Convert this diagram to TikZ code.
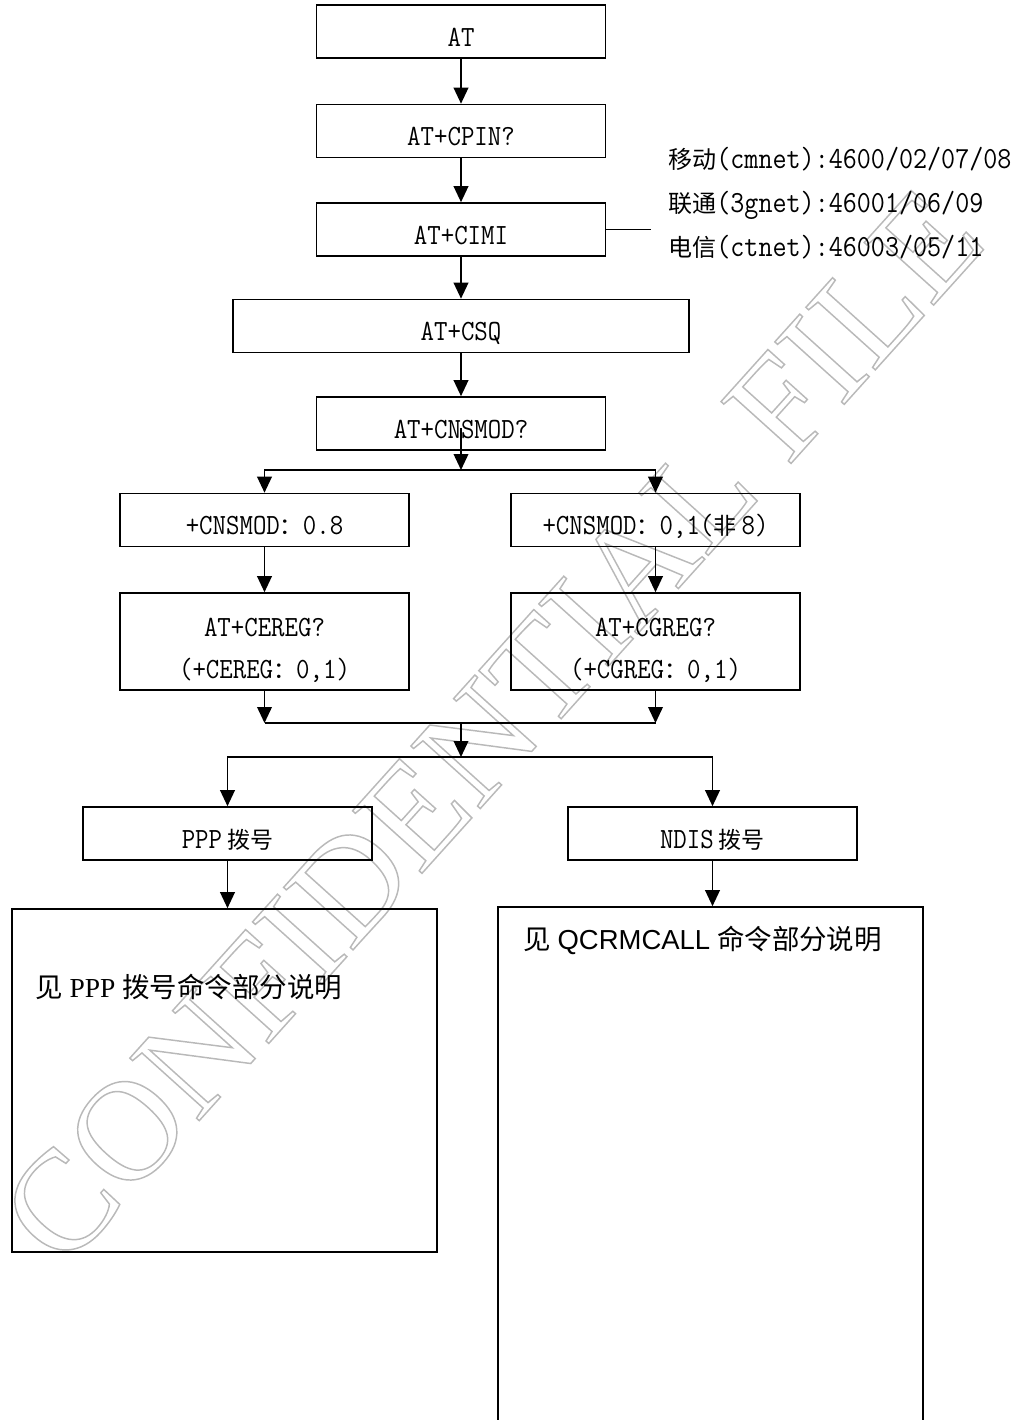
\documentclass[tikz,border=0pt]{standalone}
\usepackage{fontspec}
\setmainfont{Liberation Serif}
\setmonofont[FakeStretch=0.89]{Latin Modern Mono}
\newfontfamily\cjk[Scale=0.784]{Noto Sans CJK SC}
\newfontfamily\cjkbig{Noto Sans CJK SC}
\newfontfamily\arialfont{Liberation Sans}
\usepackage{xcolor}
\usepackage{tikz}
\usetikzlibrary{arrows.meta, positioning, calc}
\definecolor{mydark}{RGB}{0,0,0}
\definecolor{mymark}{RGB}{185,185,185}
\newcommand{\outlineon}{\special{pdf:literal direct 1 Tr 1.1 w}}
\newcommand{\outlineoff}{\special{pdf:literal direct 0 Tr}}
\newcommand{\topgap}{\rule{0pt}{27pt}}
\tikzset{
  boxbase/.style={rectangle, draw=mydark, line width=1.2pt, inner sep=0pt,
    minimum width=217pt, font=\fontsize{22}{26}\selectfont\ttfamily},
  box/.style={boxbase, minimum height=39.75pt, text height=22pt, text depth=0pt},
  widebox/.style={box, minimum width=342pt},
  tallbox/.style={boxbase, minimum height=72.75pt, align=center,
    font=\fontsize{22}{31.5}\selectfont\ttfamily},
  descbox/.style={rectangle, draw=mydark, line width=1.2pt,
    minimum width=318.75pt, minimum height=257.25pt},
  note/.style={anchor=west, inner sep=0pt, align=left,
    font=\fontsize{23}{33}\selectfont\ttfamily},
  desc/.style={anchor=west, inner sep=0pt, font=\fontsize{20.6}{24}\selectfont},
  watermark/.style={text=mymark, rotate=48, inner sep=0pt,
    font=\fontsize{107}{107}\selectfont},
  arrow/.style={-{Triangle[length=12pt, width=11pt]}, line width=1.2pt, color=mydark},
  line/.style={line width=1.2pt, color=mydark}
}
\begin{document}
\begin{tikzpicture}[x=0.75pt, y=-0.75pt]
  \useasboundingbox (0,0) rectangle (1030,1420);
  \node[watermark] (mark) at (492,726) {\outlineon CONFIDENTIAL FILE\outlineoff};

  \node[box] (at) at (461,31.5) {AT};
  \node[box] (cpin) at (461,131) {AT+CPIN?};
  \node[box] (cimi) at (461,229.5) {AT+CIMI};
  \node[widebox] (csq) at (461,326) {AT+CSQ};
  \node[box] (cnsmod) at (461,423.5) {AT+CNSMOD?};
  \node[box] (mod8) at (264.5,520) {+CNSMOD{\cjk ：}0.8};
  \node[box] (modx) at (655.5,520) {+CNSMOD{\cjk ：}0,1({\cjk 非\ }8)};
  \node[tallbox] (cereg) at (264.5,641.5) {\topgap AT+CEREG?\\(+CEREG{\cjk ：}0,1)};
  \node[tallbox] (cgreg) at (655.5,641.5) {\topgap AT+CGREG?\\(+CGREG{\cjk ：}0,1)};
  \node[box] (ppp) at (227.5,833.5) {PPP{\cjk\ 拨号}};
  \node[box] (ndis) at (712.5,833.5) {NDIS{\cjk\ 拨号}};
  \node[descbox] (pppdesc) at (224.5,1080.5) {};
  \node[descbox, minimum height=420pt] (ndisdesc) at (710.5,1187) {};
  \node[desc] (ppptext) at (35,987) {{\cjkbig 见} PPP {\cjkbig 拨号命令部分说明}};
  \node[desc] (ndistext) at (523,940) {{\cjkbig 见} {\arialfont QCRMCALL} {\cjkbig 命令部分说明}};
  \node[note] (isp) at (668,203) {{\cjk 移动}(cmnet):4600/02/07/08\\{\cjk 联通}(3gnet):46001/06/09\\{\cjk 电信}(ctnet):46003/05/11};

  \coordinate (ispend) at (651,229.5);
  \coordinate (modstart) at (461,428);
  \coordinate (splitA) at (461,470);
  \coordinate (merge) at (461,723);
  \coordinate (splitB) at (461,757);

  \draw[arrow] (at) -- (cpin);
  \draw[arrow] (cpin) -- (cimi);
  \draw[arrow] (cimi) -- (csq);
  \draw[arrow] (csq) -- (cnsmod);
  \draw[line] (cimi.east) -- (ispend);
  \draw[arrow] (modstart) -- (splitA);
  \draw[arrow] (splitA) -| (mod8);
  \draw[arrow] (splitA) -| (modx);
  \draw[arrow] (mod8) -- (cereg);
  \draw[arrow] (modx) -- (cgreg);
  \draw[arrow] (cereg) -- (cereg |- merge);
  \draw[arrow] (cgreg) -- (cgreg |- merge);
  \draw[line] (cereg |- merge) -- (cgreg |- merge);
  \draw[arrow] (merge) -- (splitB);
  \draw[arrow] (splitB) -| (ppp);
  \draw[arrow] (splitB) -| (ndis);
  \draw[arrow] (ppp) -- (ppp |- pppdesc.north);
  \draw[arrow] (ndis) -- (ndis |- ndisdesc.north);
\end{tikzpicture}
\end{document}
